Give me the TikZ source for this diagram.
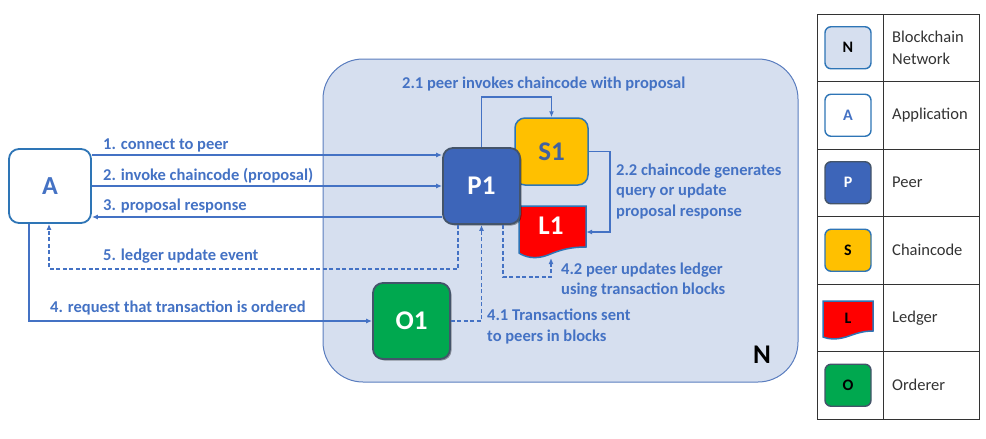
\documentclass[tikz,border=0pt]{standalone}
\usepackage{fontspec}
\setmainfont{Carlito}
\usetikzlibrary{arrows.meta,shadows}
\definecolor{lblue}{HTML}{4472C4}
\definecolor{abord}{HTML}{2E75B6}
\definecolor{nfill}{HTML}{D6DFEF}
\definecolor{nbord}{HTML}{5A7DBF}
\definecolor{pfill}{HTML}{3D65B9}
\definecolor{dbord}{HTML}{44546A}
\definecolor{sfill}{HTML}{FFC000}
\definecolor{stext}{HTML}{41619F}
\definecolor{ofill}{HTML}{00A84F}
\definecolor{tgrey}{HTML}{333333}
\tikzset{
  lbl/.style={font=\bfseries\fontsize{16.5}{20.5}\selectfont, text=lblue, anchor=west, inner sep=0pt, align=left},
  arr/.style={draw=lblue, line width=1.3pt, -{Latex[length=6pt,width=5pt]}},
  dsh/.style={dash pattern=on 4pt off 2.5pt},
  bigbox/.style={rounded corners=10pt, minimum width=77pt, minimum height=76pt, inner sep=0pt, font=\bfseries\fontsize{27}{27}\selectfont},
  legbox/.style={rounded corners=6pt, minimum width=46pt, minimum height=42pt, inner sep=0pt, line width=1.4pt, font=\bfseries\fontsize{16}{16}\selectfont},
  legtxt/.style={font=\fontsize{16.5}{22}\selectfont, text=tgrey, anchor=west, inner sep=0pt, align=left},
  shd/.style={drop shadow={shadow xshift=1.5pt, shadow yshift=-1.5pt, opacity=0.35, fill=black}}
}
\begin{document}
\begin{tikzpicture}[x=1pt,y=-1pt]
\useasboundingbox (0,0) rectangle (986,439);
% network
\node[draw=nbord, fill=nfill, line width=1pt, rounded corners=40pt, minimum width=475pt, minimum height=323pt, inner sep=0pt] (N) at (560.5,220.5) {};
\node[font=\bfseries\fontsize{27}{27}\selectfont, text=black, inner sep=0pt] (Nlab) at (762,355) {N};
% application
\node[draw=abord, fill=white, line width=1.8pt, rounded corners=10pt, minimum width=82pt, minimum height=74pt, inner sep=0pt, font=\bfseries\fontsize{26}{26}\selectfont, text=lblue] (A) at (50,186) {A};
% ledger
\node[minimum width=67pt, minimum height=52pt, inner sep=0pt] (L1) at (552.5,232) {};
\fill[red, draw=abord, line width=1.5pt] (519,206) -- (586,206) -- (586,247) .. controls (570,247) and (560,250) .. (548,255) .. controls (535,260) and (525,257) .. (519,253) -- cycle;
\node[font=\bfseries\fontsize{27}{27}\selectfont, text=white, inner sep=0pt] (L1t) at (551,226) {L1};
% chaincode
\node[bigbox, draw=abord, fill=sfill, line width=1.5pt, minimum width=73pt, minimum height=67pt, text=stext] (S1) at (551.5,151.5) {S1};
% peer
\node[bigbox, draw=dbord, fill=pfill, line width=1.8pt, text=white, shd] (P1) at (481.5,186) {P1};
% orderer
\node[bigbox, draw=dbord, fill=ofill, line width=1.8pt, text=white, shd] (O1) at (411.5,321) {O1};
% helper coordinates
\coordinate (y1) at (0,155);
\coordinate (y3) at (0,217);
\coordinate (k1) at (458,269);
\coordinate (k2) at (49,269);
\coordinate (k3) at (29,321);
\coordinate (k4) at (481,97);
\coordinate (k5) at (610,0);
\coordinate (k6) at (503,277);
\coordinate (k7) at (551,277);
\coordinate (L1b) at (551,258);
% connectors
\draw[arr] (A.east |- y1) -- (P1.west |- y1);
\draw[arr] (A.east) -- (P1.west);
\draw[arr] (P1.west |- y3) -- (A.east |- y3);
\draw[arr,dsh] (P1.south -| k1) -- (k1) -- (k2) -- (A.south -| k2);
\draw[arr] (A.south -| k3) |- (O1.west);
\draw[arr] (P1.north) -- (P1.north |- k4) -| (S1.north);
\draw[arr] (S1.east) -- (S1.east -| k5) -- (L1.east -| k5) -- (L1.east);
\draw[arr,dsh] (P1.south -| k6) -- (k6) -- (k7) -- (L1b);
\draw[arr,dsh] (O1.east) -| (P1.south);
% labels
\node[lbl] (l1) at (103,145) {1. connect to peer};
\node[lbl] (l2) at (103,176) {2. invoke chaincode (proposal)};
\node[lbl] (l3) at (103,206) {3. proposal response};
\node[lbl] (l5) at (103,256) {5. ledger update event};
\node[lbl] (l4) at (50,308) {4. request that transaction is ordered};
\node[lbl] (l21) at (402,84) {2.1 peer invokes chaincode with proposal};
\node[lbl] (l22) at (616,191.5) {2.2 chaincode generates\\query or update\\proposal response};
\node[lbl] (l42) at (561,280) {4.2 peer updates ledger\\using transaction blocks};
\node[lbl] (l41) at (487,326.5) {4.1 Transactions sent\\to peers in blocks};
% legend table
\draw[tgrey, line width=1pt] (817,14) rectangle (979,419);
\draw[tgrey, line width=1pt] (883,14) -- (883,419);
\foreach \yy in {81.5,149,216.5,284,351.5} \draw[tgrey, line width=1pt] (817,\yy) -- (979,\yy);
\node[legbox, draw=abord, fill=nfill, text=black] (gN) at (848,47.75) {N};
\node[legbox, draw=abord, fill=white, text=lblue] (gA) at (848,115.25) {A};
\node[legbox, draw=dbord, fill=pfill, text=white] (gP) at (848,182.75) {P};
\node[legbox, draw=abord, fill=sfill, text=black] (gS) at (848,250.25) {S};
\fill[red, draw=abord, line width=1.5pt] (823,301) -- (873,301) -- (873,331) .. controls (862,331) and (855,334) .. (846,337) .. controls (836,340) and (828,339) .. (823,337) -- cycle;
\node[font=\bfseries\fontsize{16}{16}\selectfont, text=black, inner sep=0pt] (gL) at (848,318) {L};
\node[legbox, draw=dbord, fill=ofill, text=black] (gO) at (848,385.25) {O};
\node[legtxt] (t1) at (892,48) {Blockchain\\Network};
\node[legtxt] (t2) at (892,115.25) {Application};
\node[legtxt] (t3) at (892,182.75) {Peer};
\node[legtxt] (t4) at (892,250.25) {Chaincode};
\node[legtxt] (t5) at (892,318) {Ledger};
\node[legtxt] (t6) at (892,385.25) {Orderer};
\end{tikzpicture}
\end{document}
